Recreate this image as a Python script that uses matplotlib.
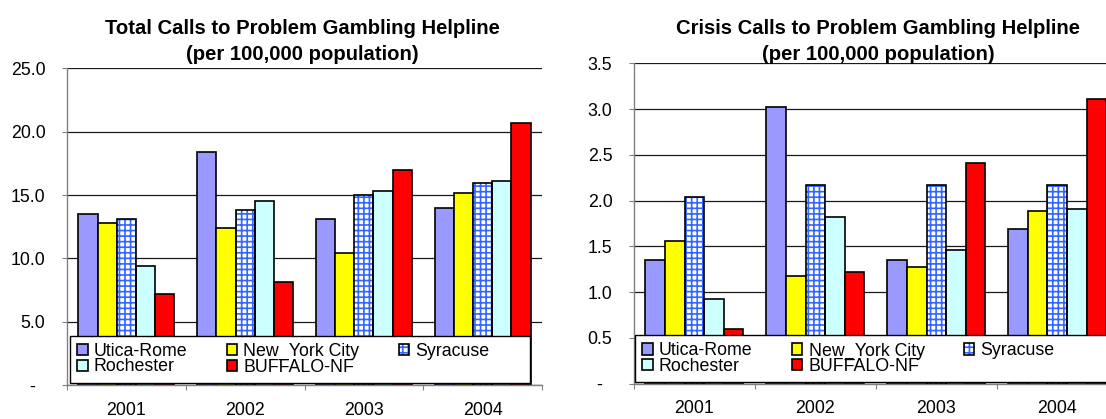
import matplotlib
matplotlib.use("Agg")
import matplotlib.pyplot as plt
import numpy as np

plt.rcParams["font.family"] = ["Liberation Sans", "DejaVu Sans"]
plt.rcParams["hatch.color"] = "#3366FF"
plt.rcParams["hatch.linewidth"] = 1.2

years = ["2001", "2002", "2003", "2004"]
regions = ["Utica-Rome", "New_York City", "Syracuse", "Rochester", "BUFFALO-NF"]

# total calls per 100,000 population
total_utica = [13.5, 18.4, 13.1, 14.0]
total_nyc = [12.8, 12.4, 10.4, 15.2]
total_syracuse = [13.1, 13.8, 15.0, 15.95]
total_rochester = [9.4, 14.5, 15.3, 16.1]
total_buffalo = [7.2, 8.1, 17.0, 20.7]

# crisis calls per 100,000 population
crisis_utica = [1.35, 3.02, 1.35, 1.69]
crisis_nyc = [1.56, 1.18, 1.27, 1.89]
crisis_syracuse = [2.04, 2.17, 2.17, 2.17]
crisis_rochester = [0.92, 1.82, 1.46, 1.91]
crisis_buffalo = [0.6, 1.22, 2.41, 3.11]

total_ticks = [0, 5, 10, 15, 20, 25]
total_ticklabels = ["-  ", "5.0", "10.0", "15.0", "20.0", "25.0"]
crisis_ticks = [0, 0.5, 1.0, 1.5, 2.0, 2.5, 3.0, 3.5]
crisis_ticklabels = ["-  ", "0.5", "1.0", "1.5", "2.0", "2.5", "3.0", "3.5"]

colors = ["#9999FF", "#FFFF00", "white", "#CCFFFF", "#FF0000"]
FS = 12.8
GRAY = "#808080"


def draw_panel(ax, series, ticks, ticklabels, legend_box):
    x = np.arange(len(years))
    width = 0.162
    handles = {}
    for i, (name, vals) in enumerate(zip(regions, series)):
        pos = x + (i - 2) * width
        if name == "Syracuse":
            # hatch in blue, outline in black
            hb = ax.bar(pos, vals, width, color="white", hatch="+++",
                        linewidth=0, zorder=2)
            ob = ax.bar(pos, vals, width, fill=False, edgecolor="black",
                        linewidth=1.2, zorder=3)
            handles[name] = (hb, ob)
        else:
            handles[name] = ax.bar(pos, vals, width, color=colors[i],
                                   edgecolor="black", linewidth=1.2, zorder=2)

    ax.set_xlim(-0.5, len(years) - 0.5)
    ax.set_ylim(ticks[0], ticks[-1])
    ax.set_yticks(ticks)
    ax.set_yticklabels(ticklabels)
    ax.set_xticks(np.arange(len(years) + 1) - 0.5)
    ax.set_xticklabels([])
    ax.set_xticks(x, minor=True)
    ax.set_xticklabels(years, minor=True)
    ax.tick_params(axis="x", which="major", length=3.5, color=GRAY)
    ax.tick_params(axis="x", which="minor", length=0, pad=12, labelsize=FS)
    ax.tick_params(axis="y", length=3.5, color=GRAY, pad=12, labelsize=FS)

    ax.yaxis.grid(True, color="#1a1a1a", linewidth=0.9)
    ax.set_axisbelow(True)
    for s in ["top", "right"]:
        ax.spines[s].set_visible(False)
    for s in ["left", "bottom"]:
        ax.spines[s].set_color(GRAY)
        ax.spines[s].set_linewidth(1.0)

    order = ["Utica-Rome", "Rochester", "New_York City", "BUFFALO-NF", "Syracuse"]
    leg = ax.legend([handles[n] for n in order], order, ncol=3,
                    loc="lower left", bbox_to_anchor=legend_box,
                    mode="expand", borderaxespad=0, fontsize=FS,
                    frameon=True, fancybox=False, framealpha=1,
                    edgecolor="black", handlelength=0.6, handleheight=0.6,
                    handletextpad=0.35, columnspacing=2.2,
                    labelspacing=-0.08, borderpad=0.4, alignment="left")
    leg.get_frame().set_linewidth(1.0)
    leg._legend_handle_box.mode = "fixed"
    leg.set_zorder(5)


fig = plt.figure(figsize=(11.06, 4.19), dpi=100)
W, H = 1106, 419

ax1 = fig.add_axes([67 / W, (H - 385) / H, 475 / W, 316.5 / H])
ax2 = fig.add_axes([634 / W, (H - 383.5) / H, 483.7 / W, 320 / H])

draw_panel(ax1, [total_utica, total_nyc, total_syracuse, total_rochester, total_buffalo],
           total_ticks, total_ticklabels, (0.006, 0.007, 0.968, 0.15))
draw_panel(ax2, [crisis_utica, crisis_nyc, crisis_syracuse, crisis_rochester, crisis_buffalo],
           crisis_ticks, crisis_ticklabels, (0.002, 0.004, 0.982, 0.15))

fig.text(302 / W, 1 - 19 / H,
         "Total Calls to Problem Gambling Helpline\n(per 100,000 population)",
         ha="center", va="top", fontsize=14.6, fontweight="bold",
         linespacing=1.5)
fig.text(878 / W, 1 - 19 / H,
         "Crisis Calls to Problem Gambling Helpline\n(per 100,000 population)",
         ha="center", va="top", fontsize=14.6, fontweight="bold",
         linespacing=1.5)

fig.savefig("out.png", dpi=100)
